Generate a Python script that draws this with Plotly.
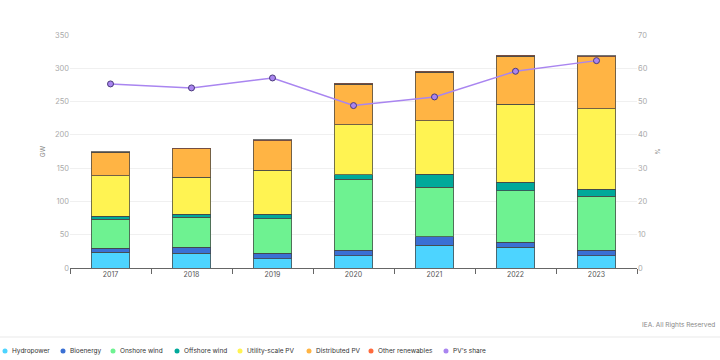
import plotly.graph_objects as go

years = ["2017", "2018", "2019", "2020", "2021", "2022", "2023"]
hydropower = [23.5, 22, 14, 18.5, 34.5, 31, 18.5]
bioenergy = [6, 9, 8, 8.5, 12.5, 8, 8.5]
onshore_wind = [43.5, 45, 52, 106.5, 74, 77, 81]
offshore_wind = [4.5, 5, 7, 6.5, 20, 12.5, 10.5]
utility_pv = [61, 55, 66, 75, 80.5, 117.5, 120.5]
distributed_pv = [35.5, 43, 44, 61, 72.5, 72, 78]
other_renewables = [0.8, 1, 1.5, 1.5, 1.5, 1.5, 1.5]
pv_share = [55.3, 54.1, 57.1, 48.8, 51.4, 59.1, 62.3]

series = [
    ("Hydropower", hydropower, "#4dd4ff"),
    ("Bioenergy", bioenergy, "#3a70d4"),
    ("Onshore wind", onshore_wind, "#6ef291"),
    ("Offshore wind", offshore_wind, "#00a99a"),
    ("Utility-scale PV", utility_pv, "#fff352"),
    ("Distributed PV", distributed_pv, "#ffb444"),
    ("Other renewables", other_renewables, "#ff6a3d"),
]
share_color = "#a985f0"
legend_names = [s[0] for s in series] + ["PV's share"]
legend_colors = [s[2] for s in series] + [share_color]
legend_px = [5, 63, 113, 177, 240, 309, 371, 446]  # legend dot x positions (px)

W, H = 720, 360
ML, MR, MT, MB = 70, 83, 35, 92
PW, PH = W - ML - MR, H - MT - MB


def px_x(p):
    return (p - ML) / PW


def px_y(p):
    return (H - MB - p) / PH


FONT = "Inter, Open Sans, sans-serif"
fig = go.Figure()
for name, vals, col in series:
    fig.add_trace(go.Bar(
        x=years, y=vals, name=name, marker_color=col,
        marker_line=dict(color="rgba(70,70,70,0.75)", width=1),
        width=0.48,
    ))
fig.add_trace(go.Scatter(
    x=years, y=pv_share, name="PV's share", yaxis="y2", mode="lines+markers",
    line=dict(color=share_color, width=1.5),
    marker=dict(size=6, color=share_color, line=dict(color="#4a3a7a", width=1)),
))

annotations = [dict(
    text="IEA. All Rights Reserved", xref="paper", yref="paper",
    x=px_x(717), y=px_y(325), xanchor="right", yanchor="middle", showarrow=False,
    font=dict(size=6.5, color="#888"),
)]
shapes = [dict(
    type="line", xref="paper", yref="paper", x0=px_x(0), x1=px_x(720),
    y0=px_y(337), y1=px_y(337), line=dict(color="#f0f0f0", width=1.5),
)]
for name, col, p in zip(legend_names, legend_colors, legend_px):
    shapes.append(dict(
        type="circle", xref="paper", yref="paper", xsizemode="pixel", ysizemode="pixel",
        xanchor=px_x(p), yanchor=px_y(351), x0=-2.5, x1=2.5, y0=-2.5, y1=2.5,
        fillcolor=col, line=dict(width=0),
    ))
    annotations.append(dict(
        text=name, xref="paper", yref="paper", x=px_x(p + 5), y=px_y(351),
        xanchor="left", yanchor="middle", showarrow=False,
        font=dict(size=6.5, color="#333"),
    ))

fig.update_layout(
    width=W, height=H, barmode="stack", showlegend=False,
    margin=dict(l=ML, r=MR, t=MT, b=MB),
    paper_bgcolor="white", plot_bgcolor="white",
    font=dict(family=FONT, size=7.5, color="#888"),
    xaxis=dict(
        showgrid=False, showline=True, linecolor="#666", linewidth=1,
        ticks="outside", tickson="boundaries", ticklen=5, tickcolor="#666",
        tickfont=dict(size=7, color="#555"),
    ),
    yaxis=dict(
        range=[0, 350], dtick=50, showgrid=True, gridcolor="#f0f0f0",
        zeroline=False, ticks="", tickfont=dict(size=7.5, color="#aaa"),
        title=dict(text="GW", font=dict(size=6.5, color="#888"), standoff=8),
    ),
    yaxis2=dict(
        range=[0, 70], dtick=10, overlaying="y", side="right",
        showgrid=False, zeroline=False, tickfont=dict(size=7.5, color="#aaa"),
        title=dict(text="%", font=dict(size=6.5, color="#888"), standoff=8),
    ),
    bargap=0.52,
    annotations=annotations,
    shapes=shapes,
)

fig.write_html("out.html", config={"displayModeBar": False},
               post_script="document.body.style.margin='0';")
